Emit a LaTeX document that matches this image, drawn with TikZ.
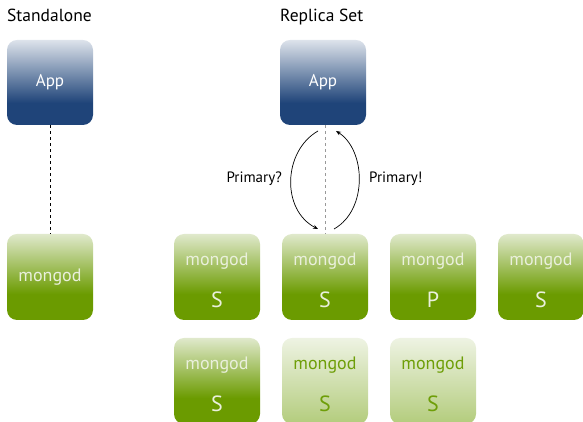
\documentclass[tikz,border=0pt]{standalone}
\usepackage{fontspec}
\setmainfont{PT Sans}
\definecolor{appdark}{HTML}{1F4479}
\definecolor{applight}{HTML}{DDE3EB}
\definecolor{mdark}{HTML}{6B9B00}
\definecolor{mlight}{HTML}{E0E9CC}
\definecolor{lbot}{HTML}{B3CC7C}
\definecolor{ltop}{HTML}{EEF3E3}
\definecolor{mtxt}{HTML}{EAF0DC}
\definecolor{ltxt}{HTML}{6E9E08}
\pgfdeclareverticalshading{appshade}{100bp}{color(0bp)=(appdark); color(38bp)=(appdark); color(75bp)=(applight); color(100bp)=(applight)}
\pgfdeclareverticalshading{mshade}{100bp}{color(0bp)=(mdark); color(40bp)=(mdark); color(75bp)=(mlight); color(100bp)=(mlight)}
\pgfdeclareverticalshading{lshade}{100bp}{color(0bp)=(lbot); color(25bp)=(lbot); color(75bp)=(ltop); color(100bp)=(ltop)}
\tikzset{
  box/.style={minimum width=86pt, minimum height=86pt, rounded corners=10pt, inner sep=0pt},
  appbox/.style={box, minimum height=85pt, shading=appshade, text=white, font=\fontsize{17}{19}\selectfont},
  mbox/.style={box, shading=mshade},
  lbox/.style={box, shading=lshade},
  mword/.style={font=\fontsize{18}{20}\selectfont, inner sep=0pt},
  role/.style={font=\fontsize{22}{24}\selectfont, inner sep=0pt},
  title/.style={font=\fontsize{17.5}{19}\selectfont, anchor=base west, inner sep=0pt},
  lbl/.style={font=\fontsize{15}{17}\selectfont, inner sep=0pt},
  conn/.style={dashed, line width=0.8pt},
  arc/.style={-{Stealth[length=5pt,width=4pt]}, line width=0.7pt}
}
\usetikzlibrary{arrows.meta,calc}
\begin{document}
\begin{tikzpicture}[x=1pt,y=1pt]
\useasboundingbox (0,0) rectangle (583,422);
% titles
\node[title] (t1) at (7,400) {Standalone};
\node[title] (t2) at (280,400) {Replica Set};
% standalone
\node[appbox] (app1) at (50,339.5) {App};
\node[mbox, text=mtxt, font=\fontsize{18}{20}\selectfont] (sm) at (50,145) {mongod};
\draw[conn, black] (app1.south) -- (sm.north);
% replica set app
\node[appbox] (app2) at (323,339.5) {App};
% row 1
\node[mbox] (r1) at (217,145) {};
\node[mbox] (r2) at (325,145) {};
\node[mbox] (r3) at (433,145) {};
\node[mbox] (r4) at (541,145) {};
% row 2
\node[mbox] (r5) at (217,41) {};
\node[lbox] (r6) at (325,41) {};
\node[lbox] (r7) at (433,41) {};
% texts
\foreach \n/\r in {r1/S, r2/S, r3/P, r4/S, r5/S} {
  \node[mword, text=mtxt] at ($(\n.center)+(0,16)$) {mongod};
  \node[role, text=mtxt] at ($(\n.center)+(0,-23)$) {\r};
}
\foreach \n in {r6, r7} {
  \node[mword, text=ltxt] at ($(\n.center)+(0,16)$) {mongod};
  \node[role, text=ltxt] at ($(\n.center)+(0,-23)$) {S};
}
% replica connector
\draw[conn, gray!80] (app2.south -| r2.north) -- (r2.north);
\coordinate (a1) at (318,291);
\coordinate (a2) at (318,193);
\coordinate (b1) at (334,193);
\coordinate (b2) at (336,291);
\draw[arc] (a1) .. controls (283,271) and (281,212) .. (a2);
\draw[arc] (b1) .. controls (368,212) and (366,272) .. (b2);
\node[lbl, anchor=east] (q) at (282,243) {Primary?};
\node[lbl, anchor=west] (e) at (369,243) {Primary!};
\end{tikzpicture}
\end{document}
